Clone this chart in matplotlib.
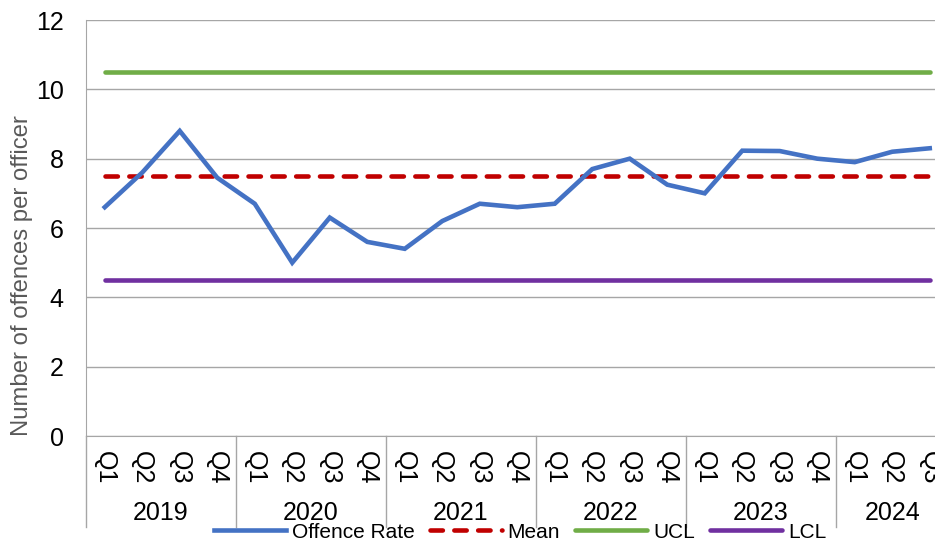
import numpy as np
import matplotlib.pyplot as plt
from matplotlib.transforms import blended_transform_factory

plt.rcParams['font.family'] = ['Liberation Sans', 'DejaVu Sans']

years = ['2019', '2020', '2021', '2022', '2023', '2024']
quarters = ['Q1', 'Q2', 'Q3', 'Q4']
n_quarters = [4, 4, 4, 4, 4, 3]
offence_rate = [6.6, 7.6, 8.8, 7.45,
                6.7, 5.0, 6.3, 5.6,
                5.4, 6.2, 6.7, 6.6,
                6.7, 7.7, 8.0, 7.25,
                7.0, 8.23, 8.22, 8.0,
                7.9, 8.2, 8.3]
mean_val = 7.5
ucl_val = 10.5
lcl_val = 4.5

labels = [q for n in n_quarters for q in quarters[:n]]
x = np.arange(len(labels))

fig = plt.figure(figsize=(9.35, 5.42), dpi=100)
W, H = 935, 542
ax = fig.add_axes([86 / W, (H - 436) / H, (948.5 - 86) / W, 416 / H])

grid_c = '#A6A6A6'
ax.plot(x, offence_rate, color='#4472C4', lw=3.3, solid_joinstyle='miter', zorder=5, label='Offence Rate')
ax.plot(x, [mean_val] * len(x), color='#C00000', lw=3.3, dashes=(2.7, 2.5),
        dash_capstyle='round', zorder=4, label='Mean')
ax.plot(x, [ucl_val] * len(x), color='#70AD47', lw=3.3, solid_capstyle='round', zorder=4, label='UCL')
ax.plot(x, [lcl_val] * len(x), color='#7030A0', lw=3.3, solid_capstyle='round', zorder=4, label='LCL')

ax.set_xlim(-0.5, len(x) - 0.5)
ax.set_ylim(0, 12)
ax.set_yticks(range(0, 13, 2))
ax.tick_params(axis='y', length=0, pad=16, labelsize=18)
ax.grid(axis='y', color=grid_c, lw=1)
ax.set_axisbelow(True)
for s in ['top', 'right']:
    ax.spines[s].set_visible(False)
ax.spines['bottom'].set_color(grid_c)
ax.spines['left'].set_color(grid_c)

ax.set_xticks(x)
ax.set_xticklabels(labels, rotation=-90, fontsize=18, va='top', ha='center')
ax.tick_params(axis='x', length=0, pad=11)

# year group labels and separators below the axis
trans = blended_transform_factory(ax.transData, ax.transAxes)
depth = (527 - 436) / 416
start = 0
for yr, n in zip(years, n_quarters):
    ax.text(start + (n - 1) / 2, -(513 - 436) / 416, yr, transform=trans,
            ha='center', va='center', fontsize=18)
    start += n
bounds = np.cumsum([0] + n_quarters) - 0.5
for b in bounds:
    ax.plot([b, b], [0, -depth], transform=trans, color=grid_c, lw=1, clip_on=False)

fig.text(22 / W, 1 - 276 / H, 'Number of offences per officer', rotation=90,
         ha='center', va='center', fontsize=17.2, color='#595959')

fig.legend(loc='center', bbox_to_anchor=(520 / W, 1 - 532 / H), ncol=4, frameon=False,
           fontsize=15, handlelength=3.46, handletextpad=0.29, columnspacing=0.72,
           borderpad=0, borderaxespad=0)

fig.savefig('out.png', dpi=100)
